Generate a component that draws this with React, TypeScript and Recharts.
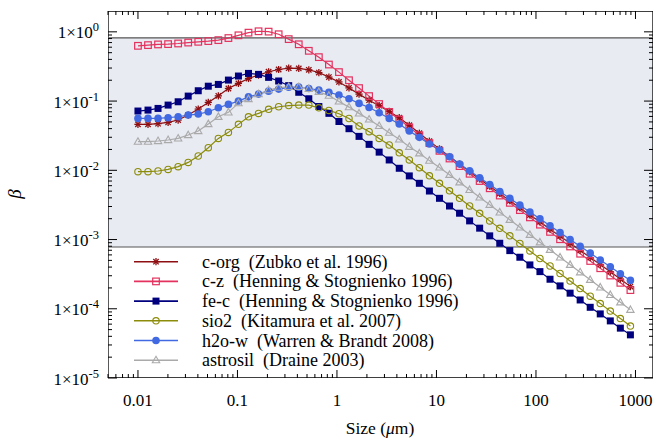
import React from 'react';
import { LineChart, Line, XAxis, YAxis, ReferenceArea, ReferenceLine, Legend } from 'recharts';

// grain sizes (µm)
const sizes = [
  0.01, 0.01262, 0.01592, 0.02009, 0.02535, 0.03199, 0.04036, 0.05093, 0.06427, 0.0811,
  0.1023, 0.1291, 0.1629, 0.2056, 0.2594, 0.3273, 0.413, 0.5212, 0.6577, 0.8299,
  1.047, 1.321, 1.667, 2.104, 2.655, 3.35, 4.227, 5.333, 6.73, 8.492,
  10.72, 13.52, 17.06, 21.53, 27.16, 34.28, 43.25, 54.58, 68.87, 86.9,
  109.6, 138.4, 174.6, 220.3, 278.0, 350.8, 442.6, 558.5, 704.7, 889.2,
];

const cOrg = [
  0.0461, 0.0461, 0.0472, 0.0492, 0.0532, 0.0628, 0.0767, 0.0957, 0.119, 0.152,
  0.18, 0.212, 0.237, 0.265, 0.286, 0.299, 0.296, 0.283, 0.258, 0.222,
  0.189, 0.155, 0.126, 0.103, 0.0857, 0.0708, 0.0575, 0.0447, 0.0343, 0.0264,
  0.0204, 0.0158, 0.0123, 0.00955, 0.0075, 0.00589, 0.00462, 0.00363, 0.00288, 0.00226,
  0.0018, 0.00141, 0.00112, 8.81e-4, 7.0e-4, 5.5e-4, 4.37e-4, 3.43e-4, 2.69e-4, 2.09e-4,
];

const cZ = [
  0.628, 0.643, 0.658, 0.665, 0.679, 0.7, 0.718, 0.735, 0.759, 0.813,
  0.891, 0.973, 1.019, 1.007, 0.923, 0.785, 0.661, 0.532, 0.431, 0.337,
  0.262, 0.2, 0.154, 0.118, 0.0906, 0.0697, 0.0542, 0.0417, 0.0321, 0.0247,
  0.0191, 0.0148, 0.0115, 0.00891, 0.007, 0.0055, 0.00432, 0.00339, 0.00266, 0.00209,
  0.00164, 0.00129, 0.00101, 7.94e-4, 6.24e-4, 4.9e-4, 3.85e-4, 3.02e-4, 2.37e-4, 1.86e-4,
];

const feC = [
  0.0718, 0.0741, 0.0783, 0.0875, 0.0977, 0.118, 0.141, 0.164, 0.174, 0.201,
  0.23, 0.251, 0.243, 0.22, 0.195, 0.167, 0.134, 0.108, 0.0834, 0.0665,
  0.0507, 0.0399, 0.0309, 0.0237, 0.0183, 0.0141, 0.0107, 0.0083, 0.00649, 0.00502,
  0.00394, 0.00305, 0.0024, 0.00186, 0.00146, 0.00113, 8.83e-4, 6.92e-4, 5.55e-4, 4.3e-4,
  3.44e-4, 2.67e-4, 2.14e-4, 1.68e-4, 1.34e-4, 1.05e-4, 8.43e-5, 6.68e-5, 5.25e-5, 4.2e-5,
];

const sio2 = [
  0.00955, 0.00955, 0.00977, 0.0103, 0.0113, 0.013, 0.0161, 0.0212, 0.0289, 0.0353,
  0.0461, 0.0593, 0.0664, 0.0759, 0.0828, 0.0861, 0.0875, 0.0875, 0.0798, 0.0733,
  0.0656, 0.056, 0.0437, 0.0361, 0.0289, 0.0232, 0.0179, 0.0141, 0.0109, 0.00832,
  0.00649, 0.00505, 0.00394, 0.00306, 0.00239, 0.00186, 0.00145, 0.00113, 8.77e-4, 6.84e-4,
  5.32e-4, 4.15e-4, 3.23e-4, 2.51e-4, 1.96e-4, 1.52e-4, 1.19e-4, 9.25e-5, 7.21e-5, 5.62e-5,
];

const h2oW = [
  0.0562, 0.0562, 0.0562, 0.0575, 0.0594, 0.0628, 0.0649, 0.0701, 0.08, 0.0895,
  0.1, 0.115, 0.126, 0.139, 0.149, 0.158, 0.159, 0.152, 0.144, 0.134,
  0.122, 0.108, 0.0925, 0.0809, 0.0678, 0.0562, 0.0466, 0.0369, 0.0299, 0.024,
  0.0196, 0.0157, 0.0123, 0.00982, 0.00782, 0.00622, 0.00495, 0.00394, 0.00314, 0.0025,
  0.00199, 0.00158, 0.00126, 0.001, 8.0e-4, 6.37e-4, 5.07e-4, 4.04e-4, 3.21e-4, 2.57e-4,
];

const astrosil = [
  0.0259, 0.0259, 0.0265, 0.0274, 0.0289, 0.0323, 0.0369, 0.0466, 0.0593, 0.0687,
  0.0933, 0.107, 0.126, 0.144, 0.156, 0.16, 0.16, 0.15, 0.136, 0.12,
  0.0989, 0.0818, 0.0664, 0.0543, 0.0437, 0.0349, 0.028, 0.0219, 0.0176, 0.0138,
  0.011, 0.00861, 0.00671, 0.00522, 0.00407, 0.00318, 0.00247, 0.00193, 0.0015, 0.00117,
  9.12e-4, 7.11e-4, 5.53e-4, 4.32e-4, 3.37e-4, 2.62e-4, 2.04e-4, 1.59e-4, 1.24e-4, 9.66e-5,
];

const shadeTop = 0.82;
const shadeBottom = 7.8e-4;

const xDomain = [0.005, 1500];
const yDomain = [1e-5, 2];
const xMajor = [0.01, 0.1, 1, 10, 100, 1000];
const xMajorLabels = ['0.01', '0.1', '1', '10', '100', '1000'];
const yMajor = [1e-5, 1e-4, 1e-3, 1e-2, 1e-1, 1];
const yMajorExp = ['-5', '-4', '-3', '-2', '-1', '0'];
const multipliers = [1, 2, 3, 4, 5, 6, 7, 8, 9];

const xTicks: number[] = [];
[0.001, 0.01, 0.1, 1, 10, 100, 1000].forEach((d) =>
  multipliers.forEach((m) => {
    const v = d * m;
    if (v >= xDomain[0] * 0.999 && v <= xDomain[1]) xTicks.push(v);
  })
);
const yTicks: number[] = [];
[1e-5, 1e-4, 1e-3, 1e-2, 1e-1, 1].forEach((d) =>
  multipliers.forEach((m) => {
    const v = d * m;
    if (v <= 1.0001 || m === 1) if (v < yDomain[1]) yTicks.push(v);
  })
);

const series = [
  { key: 'cOrg', label: 'c-org  (Zubko et al. 1996)', color: '#8e0f12', shape: 'star' },
  { key: 'cZ', label: 'c-z  (Henning & Stognienko 1996)', color: '#e4325e', shape: 'openSquare' },
  { key: 'feC', label: 'fe-c  (Henning & Stognienko 1996)', color: '#00007f', shape: 'square' },
  { key: 'sio2', label: 'sio2  (Kitamura et al. 2007)', color: '#8c8c0a', shape: 'openCircle' },
  { key: 'h2oW', label: 'h2o-w  (Warren & Brandt 2008)', color: '#4169e1', shape: 'circle' },
  { key: 'astrosil', label: 'astrosil  (Draine 2003)', color: '#aaaaaa', shape: 'openTriangle' },
];

const data = sizes.map((s, i) => ({
  size: s,
  cOrg: cOrg[i],
  cZ: cZ[i],
  feC: feC[i],
  sio2: sio2[i],
  h2oW: h2oW[i],
  astrosil: astrosil[i],
}));

const FONT = 'Liberation Serif, Tinos, DejaVu Serif, serif';
const fontStyle = { fontFamily: FONT };
const PLOT_LEFT = 108;
const PLOT_RIGHT = 653;
const PLOT_TOP = 11;
const PLOT_BOTTOM = 378;

function Marker({ shape, cx, cy, color }: { shape: string; cx: number; cy: number; color: string }) {
  if (cx == null || cy == null || isNaN(cx) || isNaN(cy)) return <g />;
  switch (shape) {
    case 'star':
      return (
        <g stroke={color} strokeWidth={1.3}>
          <line x1={cx - 3.6} y1={cy} x2={cx + 3.6} y2={cy} />
          <line x1={cx} y1={cy - 3.6} x2={cx} y2={cy + 3.6} />
          <line x1={cx - 2.7} y1={cy - 2.7} x2={cx + 2.7} y2={cy + 2.7} />
          <line x1={cx - 2.7} y1={cy + 2.7} x2={cx + 2.7} y2={cy - 2.7} />
        </g>
      );
    case 'openSquare':
      return <rect x={cx - 3.3} y={cy - 3.3} width={6.6} height={6.6} fill="none" stroke={color} strokeWidth={1.2} />;
    case 'square':
      return <rect x={cx - 3.5} y={cy - 3.5} width={7} height={7} fill={color} stroke="none" />;
    case 'openCircle':
      return <circle cx={cx} cy={cy} r={3.2} fill="none" stroke={color} strokeWidth={1.1} />;
    case 'circle':
      return <circle cx={cx} cy={cy} r={3.8} fill={color} stroke="none" />;
    case 'openTriangle':
      return (
        <polygon
          points={`${cx},${cy - 3.9} ${cx + 3.7},${cy + 2.6} ${cx - 3.7},${cy + 2.6}`}
          fill="none"
          stroke={color}
          strokeWidth={1.1}
        />
      );
    default:
      return <g />;
  }
}

const isMajorVal = (v: number, majors: number[]) => majors.findIndex((m) => Math.abs(Math.log10(v) - Math.log10(m)) < 1e-6);

const XTick = (props: any) => {
  const { x, payload } = props;
  const idx = isMajorVal(payload.value, xMajor);
  const L = idx >= 0 ? 8 : 4;
  return (
    <g>
      <line x1={x} x2={x} y1={PLOT_BOTTOM} y2={PLOT_BOTTOM - L} stroke="#000" strokeWidth={1} />
      <line x1={x} x2={x} y1={PLOT_TOP} y2={PLOT_TOP + L} stroke="#000" strokeWidth={1} />
      {idx >= 0 && (
        <text x={x} y={406} textAnchor="middle" fontSize={17} style={fontStyle} fill="#000">
          {xMajorLabels[idx]}
        </text>
      )}
    </g>
  );
};

const YTick = (props: any) => {
  const { y, payload } = props;
  const idx = isMajorVal(payload.value, yMajor);
  const L = idx >= 0 ? 9 : 4;
  return (
    <g>
      <line x1={PLOT_LEFT} x2={PLOT_LEFT + L} y1={y} y2={y} stroke="#000" strokeWidth={1} />
      <line x1={PLOT_RIGHT} x2={PLOT_RIGHT - L} y1={y} y2={y} stroke="#000" strokeWidth={1} />
      {idx >= 0 && (
        <text x={99} y={y + 6.5} textAnchor="end" fontSize={17} style={fontStyle} fill="#000">
          1×10
          <tspan dy={-7} fontSize={12.5}>
            {yMajorExp[idx]}
          </tspan>
        </text>
      )}
    </g>
  );
};

const LegendContent = () => (
  <svg width={340} height={125} style={{ display: 'block', overflow: 'visible' }}>
    {series.map((s, i) => {
      const y = 11.7 + i * 19.7;
      return (
        <g key={s.key}>
          <line x1={4} x2={48} y1={y} y2={y} stroke={s.color} strokeWidth={1.6} />
          <Marker shape={s.shape} cx={26} cy={y} color={s.color} />
          <text x={72} y={y + 6} fontSize={18} fill="#000" style={{ fontFamily: FONT, whiteSpace: 'pre' }}>
            {s.label}
          </text>
        </g>
      );
    })}
  </svg>
);

export default function App() {
  return (
    <div style={{ position: 'absolute', left: 0, top: 0, width: 658, height: 441, background: '#fff', fontFamily: FONT }}>
      <LineChart width={658} height={441} data={data} margin={{ top: 11, right: 5, left: 8, bottom: 0 }}>
        <ReferenceArea
          x1={xDomain[0]}
          x2={xDomain[1]}
          y1={shadeBottom}
          y2={shadeTop}
          fill="#e9ebf3"
          fillOpacity={1}
          stroke="none"
          ifOverflow="hidden"
        />
        <ReferenceLine y={shadeTop} stroke="#555" strokeWidth={1.2} />
        <ReferenceLine y={shadeBottom} stroke="#555" strokeWidth={1.2} />
        <XAxis
          dataKey="size"
          type="number"
          scale="log"
          domain={xDomain}
          allowDataOverflow
          ticks={xTicks}
          interval={0}
          tick={<XTick />}
          tickLine={false}
          axisLine={false}
          height={63}
          label={{
            content: () => (
              <text x={380} y={434} textAnchor="middle" fontSize={17.5} style={fontStyle} fill="#000">
                Size (<tspan fontStyle="italic">μ</tspan>m)
              </text>
            ),
          }}
        />
        <YAxis
          type="number"
          scale="log"
          domain={yDomain}
          allowDataOverflow
          ticks={yTicks}
          interval={0}
          tick={<YTick />}
          tickLine={false}
          axisLine={false}
          width={100}
          label={{
            content: () => (
              <text
                x={21}
                y={194}
                textAnchor="middle"
                fontSize={19}
                fontStyle="italic"
                style={fontStyle}
                fill="#000"
                transform="rotate(-90, 21, 194)"
              >
                β
              </text>
            ),
          }}
        />
        {series.map((s) => (
          <Line
            key={s.key}
            dataKey={s.key}
            type="linear"
            stroke={s.color}
            strokeWidth={1.2}
            isAnimationActive={false}
            dot={(p: any) => <Marker key={`${s.key}-${p.index}`} shape={s.shape} cx={p.cx} cy={p.cy} color={s.color} />}
            activeDot={false}
          />
        ))}
        <ReferenceArea
          x1={xDomain[0]}
          x2={xDomain[1]}
          y1={yDomain[0]}
          y2={yDomain[1]}
          fill="none"
          stroke="#000"
          strokeWidth={1.3}
          ifOverflow="hidden"
        />
        <Legend
          layout="vertical"
          align="center"
          verticalAlign="middle"
          content={<LegendContent />}
          wrapperStyle={{ position: 'absolute', left: 130, top: 250, width: 340, height: 125 }}
        />
      </LineChart>
    </div>
  );
}
